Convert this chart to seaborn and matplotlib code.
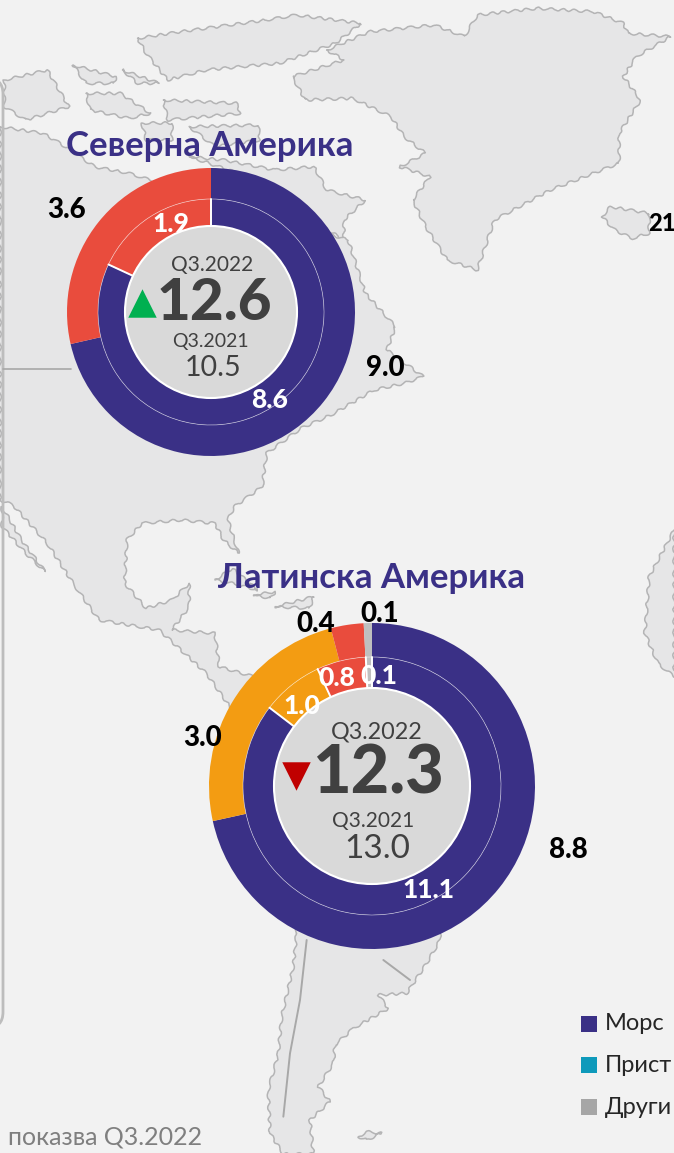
import numpy as np
import matplotlib
matplotlib.use("Agg")
import matplotlib.pyplot as plt
from matplotlib.patches import Circle, FancyBboxPatch, Polygon
import seaborn as sns

# transport modes, Q3 volumes per region
na_outer = [9.0, 3.6]
na_inner = [8.6, 1.9]
la_outer = [8.8, 3.0, 0.4, 0.1]
la_inner = [11.1, 1.0, 0.8, 0.1]

na_title = "Северна Америка"
la_title = "Латинска Америка"
na_total_now, na_total_prev = 12.6, 10.5
la_total_now, la_total_prev = 12.3, 13.0
period_now = "Q3.2022"
period_prev = "Q3.2021"

legend_names = ["Морс", "Прист", "Други"]
footer = "показва Q3.2022"

W, H = 674, 1153
NAVY = "#3a3086"
RED = "#e94c3d"
ORANGE = "#f39c12"
GREY = "#bfbfbf"
DARK = "#404040"
BG = "#f2f2f2"
LAND = "#e6e6e7"
COAST = "#b4b4b5"

sns.set_theme(style="white")
plt.rcParams['font.family'] = ['Lato', 'Noto Sans', 'DejaVu Sans']

fig = plt.figure(figsize=(W / 100, H / 100), dpi=100, facecolor=BG)
base = fig.add_axes([0, 0, 1, 1], zorder=0)
base.set_xlim(0, W)
base.set_ylim(H, 0)
base.set_axis_off()


def land(pts, sx=2.326, sy=3, ox=0, oy=0, fill=LAND):
    xy = np.array(pts, dtype=float)
    xy[:, 0] = xy[:, 0] / sx + ox
    xy[:, 1] = xy[:, 1] / sy + oy
    p = Polygon(xy, closed=True, facecolor=fill, edgecolor=COAST, lw=1.1, joinstyle='round')
    p.set_sketch_params(1.3, 14, 2)
    base.add_patch(p)


greenland = [(760, 150), (860, 95), (1010, 75), (1080, 110), (1110, 45), (1250, 25), (1380, 35), (1450, 70),
             (1460, 100), (1560, 110), (1480, 170), (1450, 230), (1490, 300), (1440, 400), (1440, 490),
             (1280, 570), (1150, 660), (1110, 810), (1040, 780), (990, 680), (960, 600), (1000, 530), (930, 500),
             (990, 460), (940, 410), (910, 350), (820, 295), (710, 300), (680, 230), (800, 180)]
arctic = [
    [(320, 115), (420, 95), (620, 60), (690, 45), (840, 70), (780, 130), (650, 190), (560, 200), (480, 210),
     (390, 240), (340, 160)],
    [(380, 300), (550, 310), (560, 340), (390, 360)],
    [(170, 195), (270, 230), (265, 250), (200, 250)],
    [(285, 210), (370, 250), (320, 250)],
    [(10, 240), (110, 210), (160, 320), (60, 360), (10, 320)],
    [(200, 280), (280, 280), (350, 340), (300, 355), (210, 330)],
    [(330, 370), (400, 370), (400, 420), (340, 420)],
    [(440, 380), (600, 375), (605, 420), (500, 440)],
    [(440, 470), (520, 480), (640, 510), (730, 500), (760, 570), (850, 600), (800, 660), (800, 720), (700, 640),
     (600, 540)],
    [(10, 770), (60, 725), (115, 710), (70, 760), (30, 775)],
    [(90, 850), (150, 810), (110, 850)],
    [(1400, 650), (1420, 620), (1510, 640), (1510, 700), (1470, 715), (1430, 690)],
]
mainland = [(0, -520), (100, -500), (140, -470), (220, -400), (300, -380), (500, -300), (810, -180), (850, -20),
            (920, 80), (900, 150), (985, 230), (940, 250), (870, 270), (770, 345), (700, 385), (620, 460),
            (610, 560), (545, 620), (530, 660), (555, 760), (520, 720), (500, 670), (420, 660), (330, 670),
            (295, 720), (290, 850), (340, 925), (400, 900), (440, 850), (440, 920), (400, 990), (500, 1000),
            (510, 1100), (590, 1130), (640, 1250), (540, 1230), (480, 1120), (370, 990), (230, 960), (170, 850),
            (110, 730), (30, 615), (0, 600)]
baja = [(5, 620), (50, 720), (105, 815), (60, 760), (5, 680)]
caribbean = [[(500, 840), (540, 805), (600, 870), (540, 850)], [(640, 920), (730, 890), (720, 925)],
             [(590, 885), (640, 875), (630, 895)]]
africa = [(1568, 690), (1510, 830), (1500, 1000), (1530, 1090), (1568, 1130)]
south_america = [(440, 400), (430, 500), (395, 650), (385, 760), (355, 870), (360, 1000), (400, 1062), (490, 1062),
                 (480, 960), (540, 905), (505, 860), (550, 790), (555, 735), (610, 685), (715, 625), (685, 585),
                 (770, 580), (830, 490), (870, 420), (870, 300), (440, 300)]
falklands = [(625, 1010), (650, 995), (695, 1000), (650, 1020)]

land(greenland)
for isl in arctic:
    land(isl)
land(mainland, oy=300)
land(baja, oy=300)
for isl in caribbean:
    land(isl, oy=300)
land(africa, oy=300)
land(south_america, sx=3, ox=150, oy=800)
land(falklands, sx=3, ox=150, oy=800)
base.plot([3, 71], [369, 369], color="#a8a8a8", lw=1.2)
base.plot([150 + 470 / 3, 150 + 450 / 3, 150 + 420 / 3, 150 + 400 / 3],
          [800 + 420 / 3, 800 + 600 / 3, 800 + 760 / 3, 800 + 950 / 3], color="#a8a8a8", lw=1.4)
base.plot([150 + 700 / 3, 150 + 780 / 3], [800 + 480 / 3, 800 + 540 / 3], color="#a8a8a8", lw=1.4)

# left panel edge
base.add_patch(FancyBboxPatch((-40, 78), 43, 950, boxstyle="round,pad=0,rounding_size=16",
                              facecolor="none", edgecolor="#bdbdbd", lw=2))


def donut(cx, cy, r_out, r_mid, r_in, outer, inner, colors):
    ax = fig.add_axes([(cx - r_out) / W, 1 - (cy + r_out) / H, 2 * r_out / W, 2 * r_out / H], zorder=1)
    ax.pie(outer, radius=1, startangle=90, counterclock=False, colors=colors,
           wedgeprops=dict(width=1 - r_mid / r_out, edgecolor='none'))
    ax.pie(inner, radius=r_mid / r_out, startangle=90, counterclock=False, colors=colors,
           wedgeprops=dict(width=(r_mid - r_in) / r_out, edgecolor=(1, 1, 1, 0.6), linewidth=0.5))
    # white cuts between the inner wedges
    for frac in np.cumsum(inner) / np.sum(inner):
        ang = np.pi / 2 - 2 * np.pi * frac
        ax.plot([r_in / r_out * np.cos(ang), r_mid / r_out * np.cos(ang)],
                [r_in / r_out * np.sin(ang), r_mid / r_out * np.sin(ang)], color="white", lw=1.4)
    ax.add_patch(Circle((0, 0), r_in / r_out, facecolor="#d9d9d9", edgecolor="white", lw=1.5, zorder=5))
    ax.set_xlim(-1, 1)
    ax.set_ylim(-1, 1)
    ax.set_axis_off()


pal_na = sns.color_palette([NAVY, RED])
pal_la = sns.color_palette([NAVY, ORANGE, RED, GREY])
donut(211, 312, 144, 113, 86, na_outer, na_inner, pal_na)
donut(372, 786, 163, 129, 98, la_outer, la_inner, pal_la)

# everything written on top
top = fig.add_axes([0, 0, 1, 1], zorder=2)
top.set_xlim(0, W)
top.set_ylim(H, 0)
top.set_axis_off()
top.patch.set_alpha(0)


def txt(x, y, s, size, color="black", weight='normal', ha='center'):
    top.text(x, y + 1.5, s, fontsize=size, color=color, fontweight=weight, ha=ha, va='center')


def val(x, y, v, color="black", size=20):
    txt(x, y, f"{v:.1f}", size, color, 900)


txt(210, 144, na_title, 25, NAVY, 'bold')
val(385, 367, na_outer[0])
val(67, 209, na_outer[1])
val(270, 398, na_inner[0], "white", 19)
val(171, 222, na_inner[1], "white", 19)
txt(212, 263, period_now, 15, DARK)
txt(214, 302, f"{na_total_now:.1f}", 42, DARK, 900)
txt(210, 340, period_prev, 14, DARK)
txt(213, 366, f"{na_total_prev:.1f}", 20.5, DARK)
top.scatter([142], [303], marker='^', s=420, color="#00b050", linewidths=0)

txt(371, 577, la_title, 25, NAVY, 'bold')
val(568, 849, la_outer[0])
val(203, 736, la_outer[1])
val(316, 622, la_outer[2])
val(380, 612, la_outer[3])
val(428, 889, la_inner[0], "white", 19)
val(302, 705, la_inner[1], "white", 19)
val(337, 677, la_inner[2], "white", 19)
val(379, 674, la_inner[3], "white", 19)
txt(377, 730, period_now, 16.8, DARK)
txt(378, 773, f"{la_total_now:.1f}", 48, DARK, 900)
txt(373, 820, period_prev, 15, DARK)
txt(377, 848, f"{la_total_prev:.1f}", 24, DARK)
top.scatter([296], [776], marker='v', s=420, color="#c00000", linewidths=0)

# legend, cut by the right edge in the picture
for name, col, yy in zip(legend_names, [NAVY, "#0e9abb", "#a6a6a6"], [1024, 1065, 1107]):
    top.scatter([588.5], [yy], marker='s', s=118, color=col, linewidths=0)
    txt(605, yy - 1.5, name, 17, "#262626", ha='left')

txt(8, 1135, footer, 18, "#7f7f7f", ha='left')
txt(648, 222, "21", 17, "black", 900, ha='left')

fig.savefig("out.png", dpi=100, facecolor=BG)
plt.close(fig)
